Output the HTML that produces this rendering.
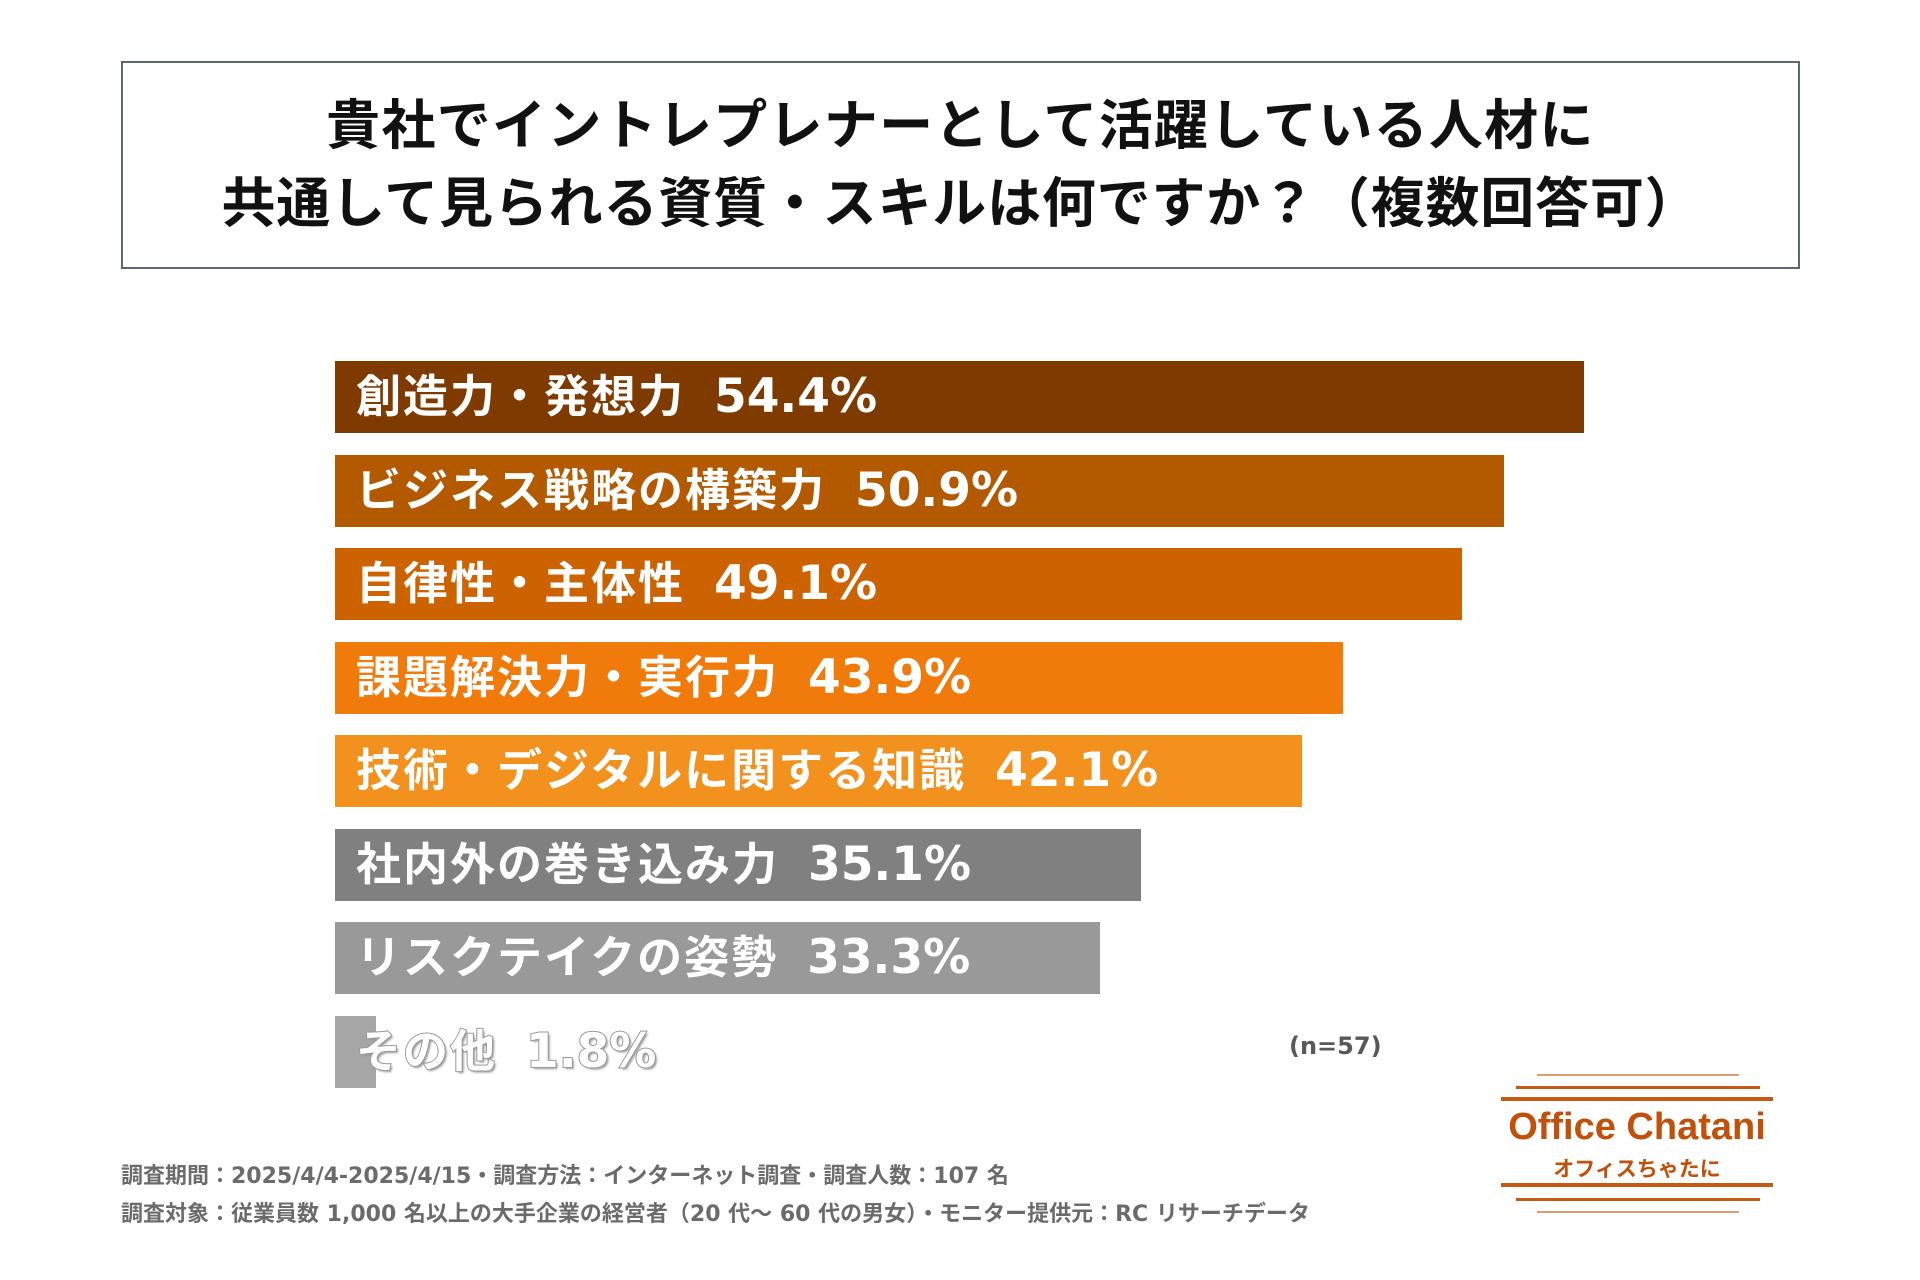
<!DOCTYPE html>
<html><head><meta charset="utf-8"><style>
body{margin:0;width:1920px;height:1280px;background:#fff;position:relative;overflow:hidden;font-family:"Liberation Sans","Noto Sans CJK JP",sans-serif;}
.abs{position:absolute;}
#title{left:121px;top:61px;width:1675px;height:204px;border:2px solid #5f6770;box-sizing:content-box;display:flex;flex-direction:column;justify-content:center;align-items:center;font-weight:bold;font-size:54px;color:#111;line-height:78px;}
.bar{position:absolute;height:72px;}
.lbl{position:absolute;height:72px;line-height:72px;font-weight:bold;font-size:45px;letter-spacing:2px;color:#fff;white-space:pre;}
.num{font-family:"DejaVu Sans","Noto Sans CJK JP",sans-serif;font-size:47px;letter-spacing:0;}
.foot{left:121px;font-size:22px;font-weight:bold;color:#6b6b6b;font-family:"DejaVu Sans","Noto Sans CJK JP",sans-serif;}
.ln{position:absolute;background:#c65a14;}
</style></head><body>
<div id="title" class="abs"><div style="letter-spacing:1.3px">貴社でイントレプレナーとして活躍している人材に</div><div style="letter-spacing:0.8px">共通して見られる資質・スキルは何ですか？（複数回答可）</div></div>
<div id="chart"></div>
<div class="abs" style="left:1289px;top:1032px;font-size:24px;font-weight:bold;color:#595959;font-family:'DejaVu Sans',sans-serif;">(n=57)</div>
<div class="abs foot" style="top:1158px;">調査期間：2025/4/4-2025/4/15・調査方法：インターネット調査・調査人数：107 名</div>
<div class="abs foot" style="top:1196px;">調査対象：従業員数 1,000 名以上の大手企業の経営者（20 代～ 60 代の男女）・モニター提供元：RC リサーチデータ</div>
<div>
<div class="ln" style="left:1537px;top:1074px;width:202px;height:2px;opacity:.6"></div>
<div class="ln" style="left:1516px;top:1086px;width:244px;height:3px"></div>
<div class="ln" style="left:1501px;top:1097px;width:272px;height:4px"></div>
<div class="abs" style="left:1491px;top:1106px;width:292px;text-align:center;font-size:38px;font-weight:bold;color:#c0500a;">Office Chatani</div>
<div class="abs" style="left:1501px;top:1153px;width:272px;text-align:center;font-size:21px;font-weight:bold;color:#c0500a;">オフィスちゃたに</div>
<div class="ln" style="left:1501px;top:1183px;width:272px;height:4px"></div>
<div class="ln" style="left:1516px;top:1198px;width:244px;height:3px"></div>
<div class="ln" style="left:1537px;top:1211px;width:202px;height:2px;opacity:.6"></div>
</div>
<script>
const categories=["創造力・発想力","ビジネス戦略の構築力","自律性・主体性","課題解決力・実行力","技術・デジタルに関する知識","社内外の巻き込み力","リスクテイクの姿勢","その他"];
const values=[54.4,50.9,49.1,43.9,42.1,35.1,33.3,1.8];
const colors=["#7f3a00","#b35a00","#cc6200","#f07a0a","#f2911e","#808080","#999999","#a6a6a6"];
const X0=335,PX=22.96,Y0=361,STEP=93.5;
function xw(v){return v*PX;}
function yb(i){return Y0+i*STEP;}
const chart=document.getElementById('chart');
categories.forEach((c,i)=>{
 const b=document.createElement('div');
 b.className='bar';
 
 
 b.style.left=X0+'px';b.style.top=yb(i)+'px';b.style.width=xw(values[i])+'px';b.style.background=colors[i];
 chart.appendChild(b);
 const l=document.createElement('div');
 l.className='lbl';
 
 
 l.style.left=(X0+21)+'px';l.style.top=yb(i)+'px';
 l.textContent=c+'  ';
 const n=document.createElement('span');
 n.className='num';
 
 
 n.textContent=values[i].toFixed(1)+'%';
 l.appendChild(n);
 if(i===categories.length-1){l.style.webkitTextStroke='2px #9a9a9a';l.style.paintOrder='stroke fill';l.style.textShadow='2px 2px 2px #999';}
 chart.appendChild(l);
});
</script>
</body></html>
